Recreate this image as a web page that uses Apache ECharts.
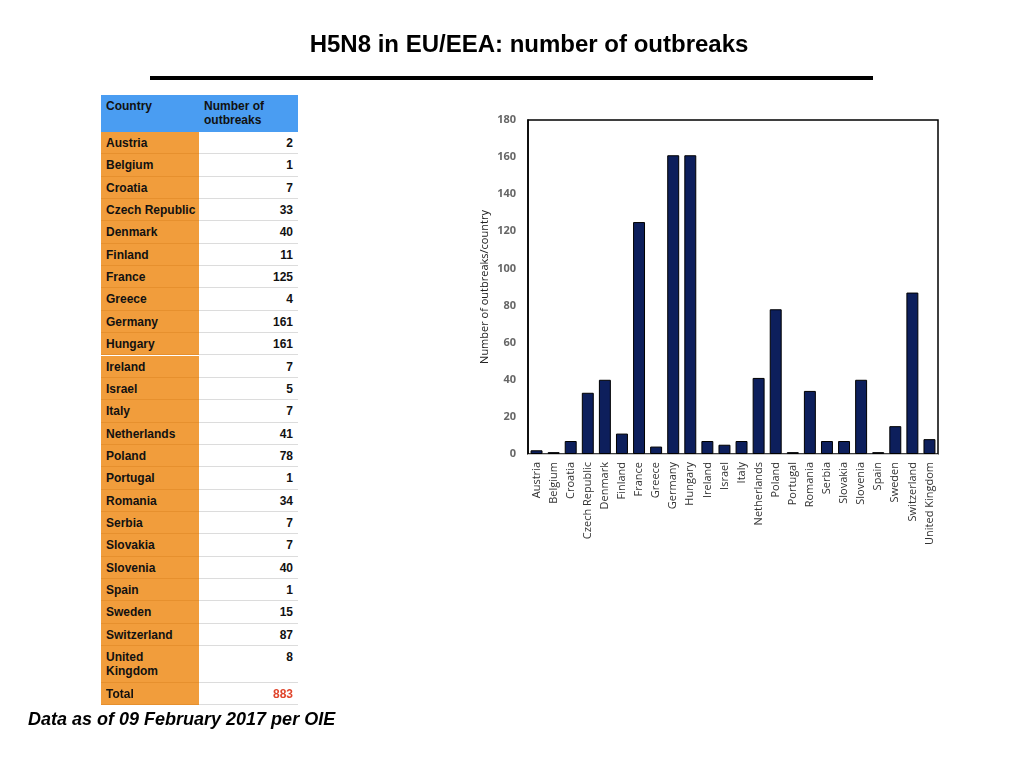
<!DOCTYPE html>
<html>
<head>
<meta charset="utf-8">
<script src="https://cdn.jsdelivr.net/npm/echarts@6/dist/echarts.min.js"></script>
<style>
  body { margin: 0; background: #fff; font-family: "Liberation Sans", Arial, sans-serif; }
  #chart { position: absolute; left: 0; top: 0; width: 1024px; height: 768px; }
  #tbl { position: absolute; left: 101px; top: 95px; width: 197px; font-size: 12px; font-weight: bold; color: #111; }
  .row { position: absolute; left: 0; width: 197px; }
  .row div { position: absolute; top: 0; bottom: 0; box-sizing: border-box; white-space: nowrap; line-height: 14px; }
  .row .c { left: 0; width: 98px; background: #f19d3c; padding: 4px 5px; border-bottom: 1px solid #e6902e; }
  .row .v { left: 98px; width: 99px; background: #fff; text-align: right; padding: 4px 5px; border-bottom: 1px solid #dcdcdc; }
  .row.h .c, .row.h .v { background: #4a9df2; text-align: left; border-bottom: none; padding-top: 4px; }
  #note { position: absolute; left: 28px; top: 709px; font-size: 18px; font-weight: bold; font-style: italic; }
</style>
</head>
<body>
<div id="chart"></div>
<div id="tbl"></div>
<div id="note">Data as of 09 February 2017 per OIE</div>
<script>
const countries = ["Austria", "Belgium", "Croatia", "Czech Republic", "Denmark", "Finland", "France", "Greece",
  "Germany", "Hungary", "Ireland", "Israel", "Italy", "Netherlands", "Poland", "Portugal", "Romania",
  "Serbia", "Slovakia", "Slovenia", "Spain", "Sweden", "Switzerland", "United Kingdom"];
const outbreaks = [2, 1, 7, 33, 40, 11, 125, 4, 161, 161, 7, 5, 7, 41, 78, 1, 34, 7, 7, 40, 1, 15, 87, 8];
const total = 883;
const yTicks = [0, 20, 40, 60, 80, 100, 120, 140, 160, 180];

// table on the left
const headH = 37, rowH = 22.35, ukH = 37;
let html = '<div class="row h" style="top:0;height:' + headH + 'px"><div class="c">Country</div><div class="v">Number of<br>outbreaks</div></div>';
let y = headH;
countries.forEach((c, i) => {
  const uk = c === "United Kingdom";
  const h = uk ? ukH : rowH;
  html += '<div class="row" style="top:' + y + 'px;height:' + h + 'px"><div class="c">' + (uk ? 'United<br>Kingdom' : c) +
    '</div><div class="v">' + outbreaks[i] + '</div></div>';
  y += h;
});
html += '<div class="row" style="top:' + y + 'px;height:' + rowH + 'px"><div class="c">Total</div><div class="v" style="color:#e0452c">' + total + '</div></div>';
document.getElementById("tbl").innerHTML = html;

const chart = echarts.init(document.getElementById("chart"));
chart.setOption({
  animation: false,
  title: {
    text: "H5N8 in EU/EEA: number of outbreaks",
    left: 524, top: 28, textAlign: "center",
    textStyle: { fontFamily: "Liberation Sans", fontSize: 24, fontWeight: "bold", color: "#000" }
  },
  graphic: [
    { type: "rect", shape: { x: 150, y: 76, width: 723, height: 4 }, style: { fill: "#000" } }
  ],
  grid: { left: 528, top: 120, width: 410, height: 334, show: true, borderColor: "#000", borderWidth: 1.5 },
  xAxis: {
    type: "category",
    data: countries,
    axisLine: { lineStyle: { color: "#c8c8c8" } },
    axisTick: { show: false },
    axisLabel: { rotate: 90, interval: 0, fontFamily: "Open Sans", fontSize: 11, color: "#333", margin: 8 }
  },
  yAxis: {
    type: "value",
    min: 0, max: 180, interval: 20,
    name: "Number of outbreaks/country",
    nameLocation: "middle",
    nameGap: 38,
    nameTextStyle: { fontFamily: "Open Sans", fontSize: 11, color: "#222" },
    axisLine: { show: true, lineStyle: { color: "#000", width: 1.5 } },
    axisTick: { show: false },
    splitLine: { show: false },
    axisLabel: { fontFamily: "Open Sans", fontSize: 11, fontWeight: "bold", color: "#666", margin: 12,
      formatter: v => yTicks.includes(v) ? String(v) : "" }
  },
  series: [{
    type: "bar",
    data: outbreaks,
    barCategoryGap: "30%",
    itemStyle: { color: "#0d1f5c", borderColor: "#000", borderWidth: 1 }
  }]
});
</script>
</body>
</html>
